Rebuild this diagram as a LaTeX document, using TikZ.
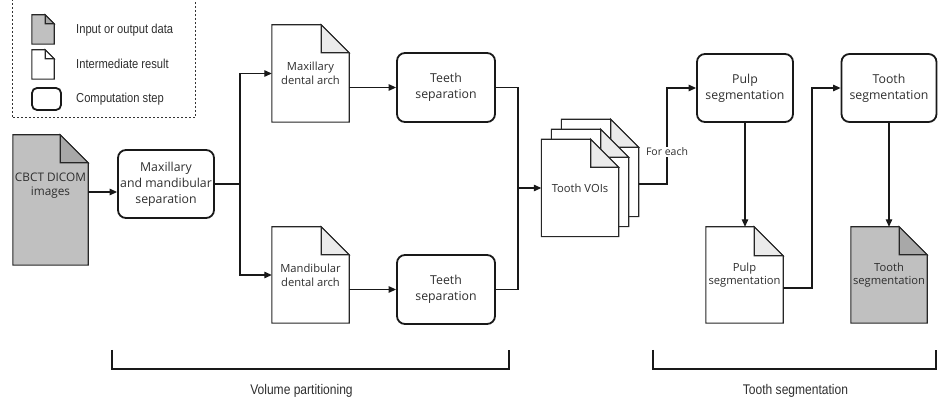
\documentclass[tikz,border=0pt]{standalone}
\usepackage{fontspec}
\setmainfont{Open Sans}
\newfontfamily\narrowfont[FakeStretch=0.86]{Liberation Sans}
\usetikzlibrary{arrows.meta,backgrounds,calc}
\definecolor{txt}{HTML}{2E2E2E}
\definecolor{iofill}{HTML}{C0C0C0}
\definecolor{iofold}{HTML}{A8A8A8}
\definecolor{midfold}{HTML}{EBEBEB}
\tikzset{
  stepbox/.style={draw=black!90, line width=1.8pt, rounded corners=8pt, align=center, text=txt,
    font=\fontsize{12.3}{16}\selectfont, inner sep=0pt},
  docnode/.style={draw=none, align=center, text=txt, font=\fontsize{11.2}{13.8}\selectfont, inner sep=0pt},
  arr/.style={line width=1.2pt, draw=black!90, -{Triangle[length=7.5pt,width=6.5pt]}},
  conn/.style={line width=1.2pt, draw=black!90},
  legtext/.style={text=txt, font=\narrowfont\fontsize{13}{15}\selectfont, inner sep=0pt, anchor=west},
  grouptext/.style={text=txt, font=\narrowfont\fontsize{14}{16}\selectfont, inner sep=0pt},
  brk/.style={line width=1.8pt, draw=black!90},
  lbl/.style={fill=white, text=txt, font=\fontsize{10.5}{12}\selectfont, inner sep=1pt},
}
\newcommand\mydoc[4]{%
  \begin{pgfonlayer}{background}
  \filldraw[fill=#3, draw=black!85, line width=1.1pt, line join=miter]
    (#1.north west) -- ([xshift=-#2]#1.north east) -- ([yshift=-#2]#1.north east)
    -- (#1.south east) -- (#1.south west) -- cycle;
  \filldraw[fill=#4, draw=black!85, line width=1.1pt, line join=miter]
    ([xshift=-#2]#1.north east) -- ([xshift=-#2,yshift=-#2]#1.north east)
    -- ([yshift=-#2]#1.north east) -- cycle;
  \end{pgfonlayer}}
\begin{document}
\begin{tikzpicture}[x=1pt,y=-1pt]
\useasboundingbox (0,0) rectangle (938,398);
% legend
\draw[line width=1pt, dash pattern=on 2pt off 2pt, black!80] (12,-5) -- (12,118) -- (195,118) -- (195,-5);
\node[docnode, minimum width=22pt, minimum height=29pt] (lgio) at (43,29.5) {};
\mydoc{lgio}{9pt}{iofill}{iofold}
\node[docnode, minimum width=22pt, minimum height=29pt] (lgmid) at (43,64.5) {};
\mydoc{lgmid}{9pt}{white}{white}
\node[stepbox, rounded corners=5pt, minimum width=29pt, minimum height=22pt] (lgstep) at (46.5,99) {};
\node[legtext] (lt1) at (76,30) {Input or output data};
\node[legtext] (lt2) at (76,64) {Intermediate result};
\node[legtext] (lt3) at (76,99) {Computation step};
% input
\node[docnode, minimum width=75pt, minimum height=130pt] (cbct) at (50.5,200) {};
\mydoc{cbct}{28pt}{iofill}{iofold}
\node[docnode, font=\fontsize{11.8}{14}\selectfont] (cbcttext) at (50.5,186) {CBCT DICOM\\images};
\node[stepbox, minimum width=96pt, minimum height=68pt] (mms) at (166,184) {Maxillary\\and mandibular\\separation};
\draw[arr] ([yshift=8pt]cbct.east) -- ([yshift=8pt]cbct.east -| mms.west);
% arches
\node[docnode, minimum width=77pt, minimum height=97pt] (maxd) at (310.5,73.5) {Maxillary\\dental arch};
\mydoc{maxd}{28pt}{white}{midfold}
\node[docnode, minimum width=77pt, minimum height=96pt] (mand) at (310.5,275) {Mandibular\\dental arch};
\mydoc{mand}{28pt}{white}{midfold}
\coordinate (sp) at (240,184);
\draw[conn] (mms.east) -- (sp);
\draw[arr] (sp) |- (maxd.west);
\draw[arr] (sp) |- (mand.west);
% teeth separation
\node[stepbox, minimum width=98pt, minimum height=69pt] (ts1) at (446,87.5) {Teeth\\separation};
\node[stepbox, minimum width=98pt, minimum height=69pt] (ts2) at (446,289.5) {Teeth\\separation};
\draw[arr] (maxd.east |- ts1.west) -- (ts1.west);
\draw[arr] (mand.east |- ts2.west) -- (ts2.west);
% VOIs
\node[docnode, minimum width=77pt, minimum height=97pt] (voi3) at (600,168) {};
\mydoc{voi3}{28pt}{white}{midfold}
\node[docnode, minimum width=77pt, minimum height=97pt] (voi2) at (590,178) {};
\mydoc{voi2}{28pt}{white}{midfold}
\node[docnode, minimum width=77pt, minimum height=97pt] (voi1) at (580,188) {Tooth VOIs};
\mydoc{voi1}{28pt}{white}{midfold}
\coordinate (mg) at (518,188);
\draw[conn] (ts1.east) -| (mg);
\draw[conn] (ts2.east) -| (mg);
\draw[arr] (mg) -- (mg -| voi1.west);
% pulp
\node[stepbox, minimum width=96pt, minimum height=68pt] (pulp) at (745,88) {Pulp\\segmentation};
\coordinate (fe) at (667,184);
\draw[arr] ([yshift=-16pt]voi3.east) -- (fe) |- (pulp.west);
\node[lbl] (fel) at (667,152) {For each};
\node[docnode, minimum width=77pt, minimum height=96pt] (pdoc) at (744.5,275) {Pulp\\segmentation};
\mydoc{pdoc}{29pt}{white}{midfold}
\draw[arr] (pulp.south) -- (pulp.south |- pdoc.north);
% tooth
\node[stepbox, minimum width=95pt, minimum height=68pt] (tooth) at (889,88) {Tooth\\segmentation};
\coordinate (tj) at (812,288);
\draw[arr] ([yshift=-13pt]pdoc.east) -- (tj) |- (tooth.west);
\node[docnode, minimum width=76pt, minimum height=96pt] (tdoc) at (889,275) {Tooth\\segmentation};
\mydoc{tdoc}{28pt}{iofill}{iofold}
\draw[arr] (tooth.south) -- (tooth.south |- tdoc.north);
% brackets
\draw[brk] (112,350) -- (112,369) -- (509,369) -- (509,350);
\draw[brk] (653,350) -- (653,369) -- (936,369) -- (936,350);
\node[grouptext] (g1) at (301.5,391) {Volume partitioning};
\node[grouptext] (g2) at (795.5,391) {Tooth segmentation};
\end{tikzpicture}
\end{document}
